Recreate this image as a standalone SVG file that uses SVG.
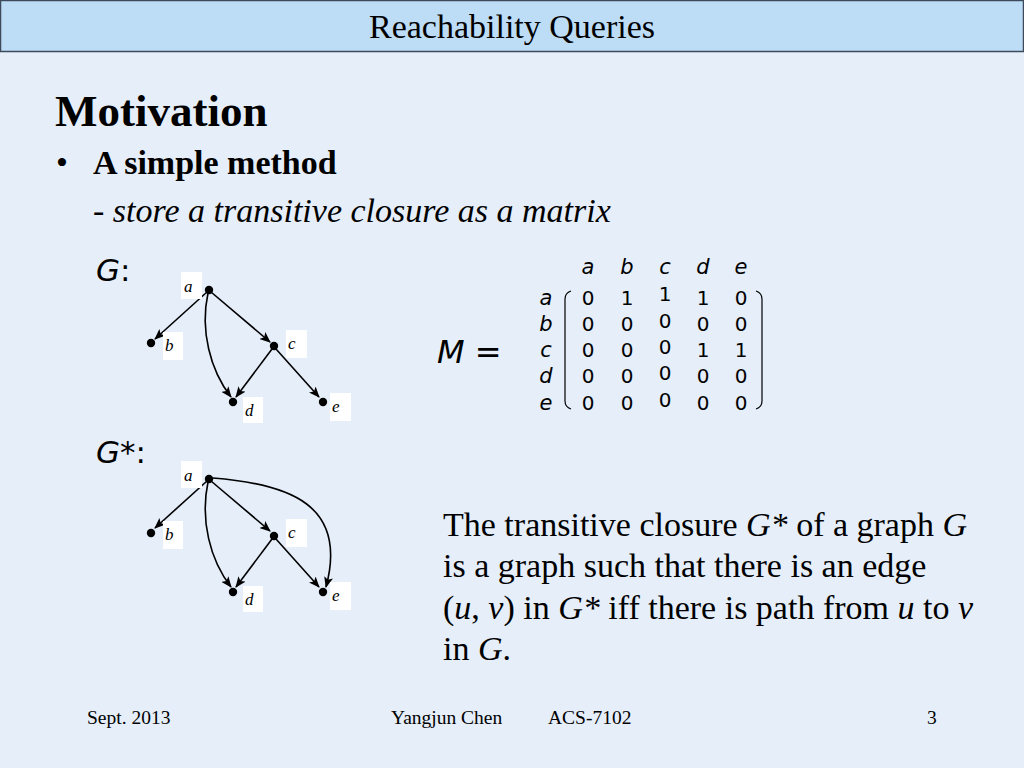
<svg xmlns="http://www.w3.org/2000/svg" width="1024" height="768" viewBox="0 0 1024 768">
<defs>
<marker id="arr" markerWidth="11" markerHeight="9" refX="10" refY="4.5" orient="auto" markerUnits="userSpaceOnUse">
<path d="M0,0 L11,4.5 L0,9 L2.5,4.5 Z" fill="#000"/>
</marker>
<style>
.serif{font-family:"Liberation Serif","Times New Roman",serif;fill:#000}
.sans{font-family:"DejaVu Sans","Verdana",sans-serif;fill:#000}
.lbl{font-family:"Liberation Serif",serif;font-style:italic;font-size:17px;fill:#000}
.lblbg{fill:#fff}
.edge{stroke:#000;stroke-width:1.6;fill:none;marker-end:url(#arr)}
.dot{fill:#000}
.m{font-family:"DejaVu Sans",sans-serif;font-size:20px;text-anchor:middle;fill:#000}
.mi{font-family:"DejaVu Sans",sans-serif;font-size:21px;font-style:italic;text-anchor:middle;fill:#000}
</style>
</defs>
<rect width="1024" height="768" fill="#e5eef9"/>
<rect x="0.5" y="0.5" width="1023" height="51" fill="#bddcf6" stroke="#3c4a5c" stroke-width="1.5"/>
<text class="serif" x="512" y="38" font-size="34" text-anchor="middle">Reachability Queries</text>
<text class="serif" x="55" y="126" font-size="45" font-weight="bold">Motivation</text>
<text class="serif" x="56" y="174" font-size="34">•</text>
<text class="serif" x="93" y="174" font-size="34" font-weight="bold">A simple method</text>
<text class="serif" x="93" y="222" font-size="34">- <tspan font-style="italic">store a transitive closure as a matrix</tspan></text>
<text class="sans" x="96" y="281" font-size="31"><tspan font-style="italic">G</tspan>:</text>
<text class="sans" x="96" y="463" font-size="31"><tspan font-style="italic">G*</tspan>:</text>

<!-- Graph G -->
<g id="connectors-G">
<line class="edge" x1="207" y1="292" x2="155" y2="339"/>
<line class="edge" x1="211" y1="292" x2="270" y2="342"/>
<path class="edge" d="M208,293 C200,330 210,370 231,397"/>
<line class="edge" x1="272" y1="349" x2="236" y2="397"/>
<line class="edge" x1="276" y1="349" x2="319" y2="397"/>
</g>
<g id="G-a"><rect class="lblbg" x="181" y="272" width="21" height="27"/><text class="lbl" x="184" y="292">a</text><circle class="dot" cx="209" cy="290" r="4.2"/></g>
<g id="G-b"><rect class="lblbg" x="163" y="332" width="20" height="28"/><text class="lbl" x="165" y="351">b</text><circle class="dot" cx="151" cy="343" r="4.2"/></g>
<g id="G-c"><rect class="lblbg" x="286" y="330" width="21" height="28"/><text class="lbl" x="288" y="349">c</text><circle class="dot" cx="274" cy="346" r="4.2"/></g>
<g id="G-d"><rect class="lblbg" x="243" y="397" width="20" height="26"/><text class="lbl" x="245" y="416">d</text><circle class="dot" cx="233" cy="402" r="4.2"/></g>
<g id="G-e"><rect class="lblbg" x="330" y="393" width="21" height="28"/><text class="lbl" x="332" y="412">e</text><circle class="dot" cx="323" cy="402" r="4.2"/></g>

<!-- Graph G* -->
<g id="connectors-Gstar">
<line class="edge" x1="207" y1="481" x2="155" y2="528"/>
<line class="edge" x1="211" y1="481" x2="270" y2="531"/>
<path class="edge" d="M208,482 C200,520 210,560 231,587"/>
<line class="edge" x1="272" y1="539" x2="236" y2="587"/>
<line class="edge" x1="276" y1="539" x2="319" y2="587"/>
<path class="edge" d="M213,478 C290,484 348,505 326,587"/>
</g>
<g id="Gs-a"><rect class="lblbg" x="181" y="461" width="21" height="27"/><text class="lbl" x="184" y="481">a</text><circle class="dot" cx="209" cy="479" r="4.2"/></g>
<g id="Gs-b"><rect class="lblbg" x="163" y="521" width="20" height="28"/><text class="lbl" x="165" y="540">b</text><circle class="dot" cx="151" cy="533" r="4.2"/></g>
<g id="Gs-c"><rect class="lblbg" x="286" y="519" width="21" height="28"/><text class="lbl" x="288" y="538">c</text><circle class="dot" cx="274" cy="536" r="4.2"/></g>
<g id="Gs-d"><rect class="lblbg" x="243" y="586" width="20" height="26"/><text class="lbl" x="245" y="605">d</text><circle class="dot" cx="233" cy="592" r="4.2"/></g>
<g id="Gs-e"><rect class="lblbg" x="330" y="582" width="21" height="28"/><text class="lbl" x="332" y="601">e</text><circle class="dot" cx="323" cy="592" r="4.2"/></g>

<!-- Matrix -->
<g id="matrix">
<text class="sans" x="437" y="363" font-size="32"><tspan font-style="italic">M</tspan> =</text>
<text class="mi" x="588" y="274">a</text><text class="mi" x="627" y="274">b</text><text class="mi" x="665" y="274">c</text><text class="mi" x="703" y="274">d</text><text class="mi" x="741" y="274">e</text>
<text class="mi" x="546" y="305">a</text><text class="mi" x="546" y="331">b</text><text class="mi" x="546" y="357">c</text><text class="mi" x="546" y="383">d</text><text class="mi" x="546" y="410">e</text>
<text class="m" x="588" y="305">0</text><text class="m" x="627" y="305">1</text><text class="m" x="665" y="301">1</text><text class="m" x="703" y="305">1</text><text class="m" x="741" y="305">0</text>
<text class="m" x="588" y="331">0</text><text class="m" x="627" y="331">0</text><text class="m" x="665" y="328">0</text><text class="m" x="703" y="331">0</text><text class="m" x="741" y="331">0</text>
<text class="m" x="588" y="357">0</text><text class="m" x="627" y="357">0</text><text class="m" x="665" y="354">0</text><text class="m" x="703" y="357">1</text><text class="m" x="741" y="357">1</text>
<text class="m" x="588" y="383">0</text><text class="m" x="627" y="383">0</text><text class="m" x="665" y="380">0</text><text class="m" x="703" y="383">0</text><text class="m" x="741" y="383">0</text>
<text class="m" x="588" y="410">0</text><text class="m" x="627" y="410">0</text><text class="m" x="665" y="407">0</text><text class="m" x="703" y="410">0</text><text class="m" x="741" y="410">0</text>
<path d="M571,291 Q565,293 565,299 L565,401 Q565,407 571,409" fill="none" stroke="#000" stroke-width="1.2"/>
<path d="M756,291 Q762,293 762,299 L762,401 Q762,407 756,409" fill="none" stroke="#000" stroke-width="1.2"/>
</g>

<g id="definition" class="serif" font-size="34">
<text x="443" y="536">The transitive closure <tspan font-style="italic">G*</tspan> of a graph <tspan font-style="italic">G</tspan></text>
<text x="443" y="577">is a graph such that there is an edge</text>
<text x="443" y="619">(<tspan font-style="italic">u</tspan>, <tspan font-style="italic">v</tspan>) in <tspan font-style="italic">G*</tspan> iff there is path from <tspan font-style="italic">u</tspan> to <tspan font-style="italic">v</tspan></text>
<text x="443" y="660">in <tspan font-style="italic">G</tspan>.</text>
</g>

<g id="footer" class="serif" font-size="19.5">
<text x="87" y="724">Sept. 2013</text>
<text x="391" y="724">Yangjun Chen</text>
<text x="548" y="724">ACS-7102</text>
<text x="927" y="724">3</text>
</g>
</svg>
